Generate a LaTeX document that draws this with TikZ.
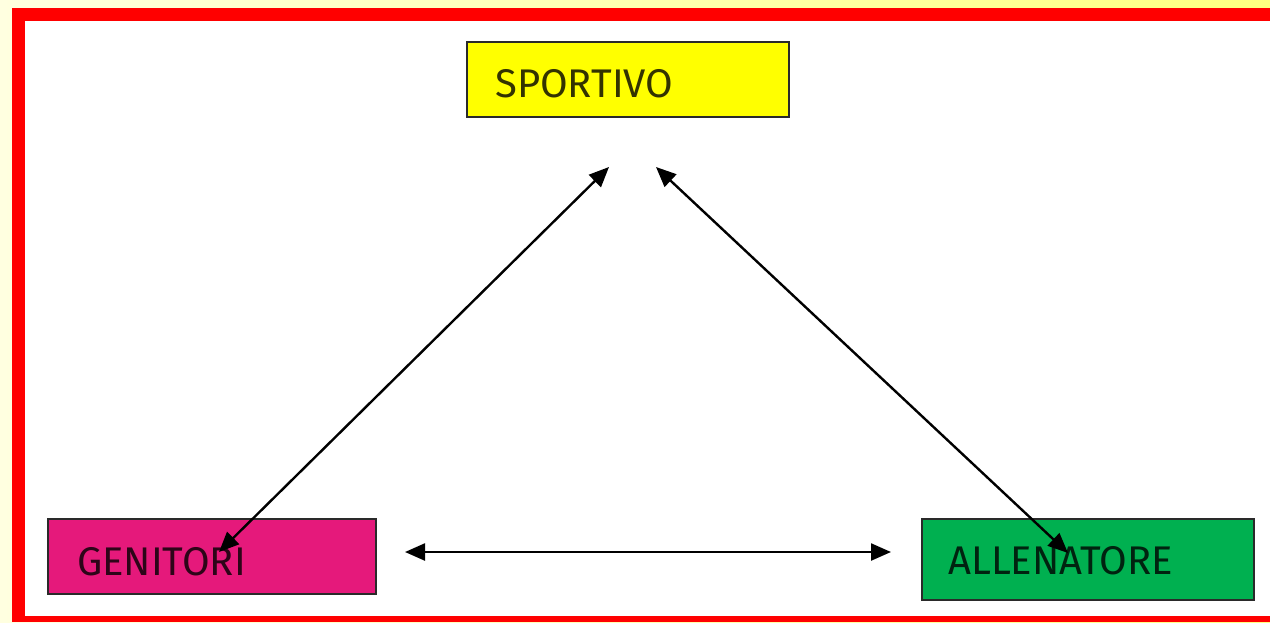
\documentclass[tikz,border=0pt]{standalone}
\usepackage{fontspec}
\setmainfont{Fira Sans}
\usetikzlibrary{arrows.meta}
\definecolor{paleY}{HTML}{FFFFE0}
\definecolor{richY}{HTML}{FFFF80}
\definecolor{boxY}{HTML}{FFFF00}
\definecolor{boxM}{HTML}{E5197B}
\definecolor{boxG}{HTML}{00B050}
\definecolor{edge}{HTML}{2A2A2A}
\tikzset{
  box/.style={draw=edge, line width=1.8pt, anchor=north west, inner sep=0pt},
  lbl/.style={anchor=base west, inner sep=0pt, font=\fontsize{40}{40}\selectfont, text=black, text opacity=0.8},
  link/.style={line width=2.4pt, {Triangle[length=20pt,width=17pt]}-{Triangle[length=20pt,width=17pt]}}
}
\begin{document}
\begin{tikzpicture}[x=1pt,y=-1pt]
\useasboundingbox (0,0) rectangle (1270,622);
\shade[left color=paleY, right color=richY] (0,0) rectangle (1270,622);
\fill[red] (12,8) rectangle (1270,622);
\fill[white] (25,21) rectangle (1270,616);
% boxes
\node[box, fill=boxY, minimum width=322pt, minimum height=75pt] (sp) at (466,41) {};
\node[box, fill=boxM, minimum width=328pt, minimum height=75pt] (ge) at (47,518) {};
\node[box, fill=boxG, minimum width=332pt, minimum height=81pt] (al) at (921,518) {};
\node[lbl] (spt) at (495,97) {SPORTIVO};
\node[lbl] (get) at (77,575) {GENITORI};
\node[lbl] (alt) at (948,574) {ALLENATORE};
% arrow ends
\coordinate (sL) at (609,167);
\coordinate (sR) at (656,167);
\coordinate (gT) at (219,552);
\coordinate (aT) at (1068,553);
\coordinate (gR) at (405,552);
\coordinate (aL) at (891,552);
\draw[link] (sL) -- (gT);
\draw[link] (sR) -- (aT);
\draw[link] (gR) -- (aL);
\end{tikzpicture}
\end{document}
